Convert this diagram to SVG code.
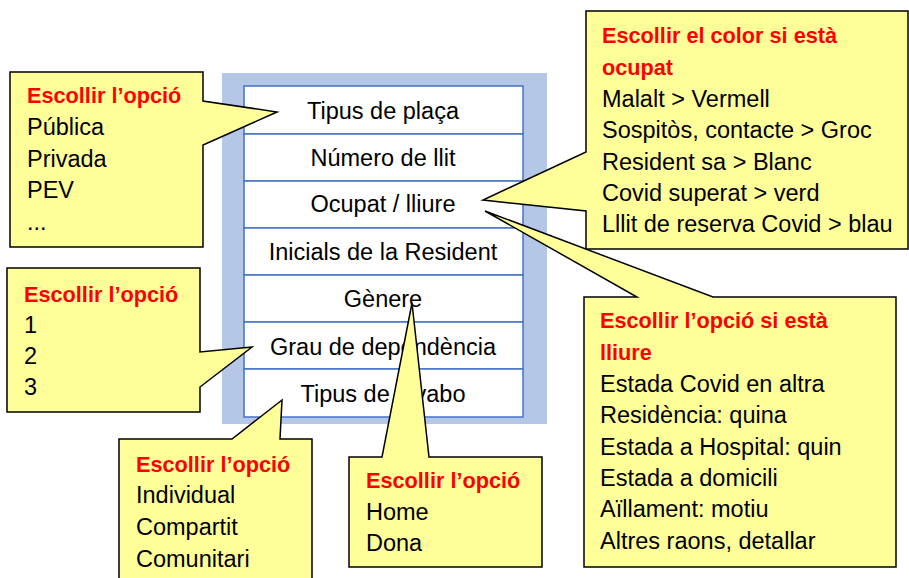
<svg xmlns="http://www.w3.org/2000/svg" width="909" height="578" viewBox="0 0 909 578">
<style>
.t{font-family:"Liberation Sans",Arial,sans-serif;font-size:23.5px;fill:#000}
.h{font-weight:bold;fill:#FF0000;font-size:21.7px}
.c{text-anchor:middle}
.cell{fill:#fff;stroke:#4472C4;stroke-width:1.5}
.co{fill:#FFFF99;stroke:#000;stroke-width:1.5;stroke-linejoin:miter}
</style>
<rect width="909" height="578" fill="#fff"/>
<g id="table">
<rect x="222" y="73" width="325" height="351" fill="#B4C7E7"/>
<g id="row1"><rect class="cell" x="244" y="86" width="279" height="48"/><text class="t c" x="383" y="119">Tipus de plaça</text></g>
<g id="row2"><rect class="cell" x="244" y="134" width="279" height="47"/><text class="t c" x="383" y="166">Número de llit</text></g>
<g id="row3"><rect class="cell" x="244" y="181" width="279" height="47"/><text class="t c" x="383" y="212">Ocupat / lliure</text></g>
<g id="row4"><rect class="cell" x="244" y="228" width="279" height="47"/><text class="t c" x="383" y="260">Inicials de la Resident</text></g>
<g id="row5"><rect class="cell" x="244" y="275" width="279" height="47"/><text class="t c" x="383" y="307">Gènere</text></g>
<g id="row6"><rect class="cell" x="244" y="322" width="279" height="47"/><text class="t c" x="383" y="355">Grau de dependència</text></g>
<g id="row7"><rect class="cell" x="244" y="369" width="279" height="48"/><text class="t c" x="383" y="402">Tipus de lavabo</text></g>
</g>
<g id="connectors">
<g id="callout-placa">
<path class="co" d="M10,72 H203 V101 L277,112 L203,145 V247 H10 Z"/>
<text class="t h" x="27" y="103">Escollir l’opció</text>
<text class="t" x="27" y="135">Pública</text>
<text class="t" x="27" y="167">Privada</text>
<text class="t" x="27" y="198">PEV</text>
<text class="t" x="27" y="230">...</text>
</g>
<g id="callout-grau">
<path class="co" d="M7,268 H200 V352 L252,347 L200,387 V412 H7 Z"/>
<text class="t h" x="24" y="302">Escollir l’opció</text>
<text class="t" x="24" y="333">1</text>
<text class="t" x="24" y="364">2</text>
<text class="t" x="24" y="395">3</text>
</g>
<g id="callout-lavabo">
<path class="co" d="M119,439 H232 L282,400 L280,439 H312 V590 H119 Z"/>
<text class="t h" x="136" y="472">Escollir l’opció</text>
<text class="t" x="136" y="503">Individual</text>
<text class="t" x="136" y="535">Compartit</text>
<text class="t" x="136" y="567">Comunitari</text>
</g>
<g id="callout-genere">
<path class="co" d="M349,457 H382 L412,303 L429,457 H542 V567 H349 Z"/>
<text class="t h" x="366" y="488">Escollir l’opció</text>
<text class="t" x="366" y="520">Home</text>
<text class="t" x="366" y="551">Dona</text>
</g>
<g id="callout-lliure">
<path class="co" d="M584,297 H637 L485,211 L713,297 H896 V567 H584 Z"/>
<text class="t h" x="600" y="328">Escollir l’opció si està</text>
<text class="t h" x="600" y="360">lliure</text>
<text class="t" x="600" y="392">Estada Covid en altra</text>
<text class="t" x="600" y="423">Residència: quina</text>
<text class="t" x="600" y="455">Estada a Hospital: quin</text>
<text class="t" x="600" y="486">Estada a domicili</text>
<text class="t" x="600" y="517">Aïllament: motiu</text>
<text class="t" x="600" y="549">Altres raons, detallar</text>
</g>
<g id="callout-ocupat">
<path class="co" d="M586,11 H908 V249 H586 V211 L483,200 L586,152 Z"/>
<text class="t h" x="602" y="43">Escollir el color si està</text>
<text class="t h" x="602" y="75">ocupat</text>
<text class="t" x="602" y="107">Malalt &gt; Vermell</text>
<text class="t" x="602" y="138">Sospitòs, contacte &gt; Groc</text>
<text class="t" x="602" y="170">Resident sa &gt; Blanc</text>
<text class="t" x="602" y="201">Covid superat &gt; verd</text>
<text class="t" x="602" y="232">Lllit de reserva Covid &gt; blau</text>
</g>
</g>
</svg>
